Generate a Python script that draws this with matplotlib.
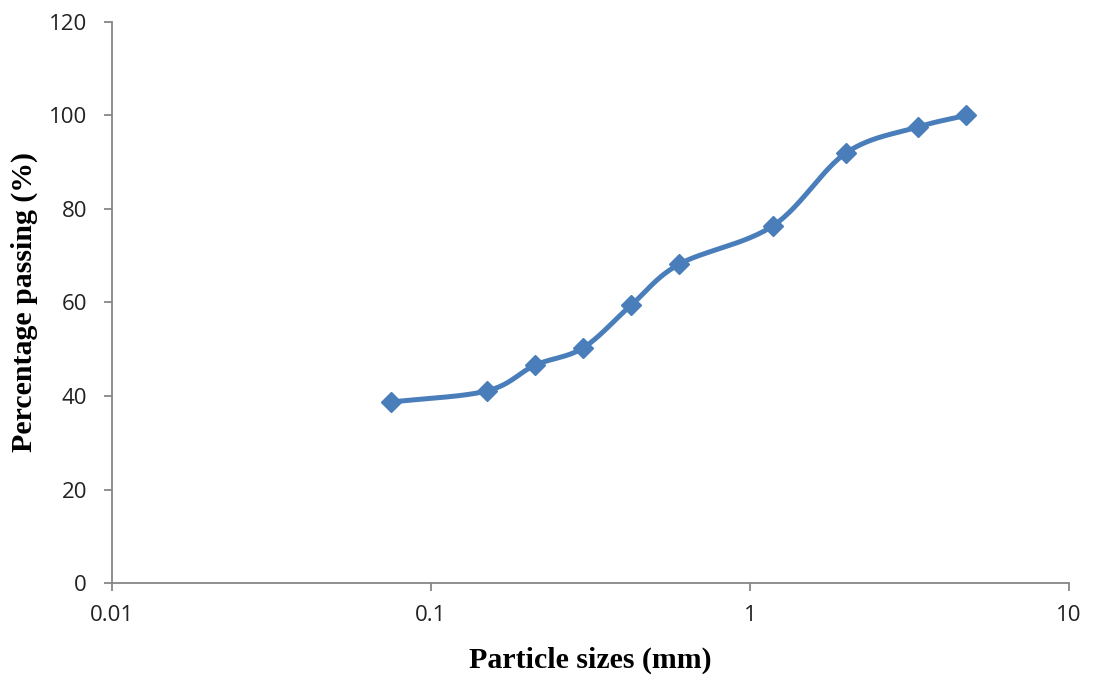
import matplotlib.pyplot as plt
from matplotlib.ticker import FixedLocator, FuncFormatter, NullLocator
import numpy as np

# sieve sizes (mm) and percentage passing
sizes = [0.075, 0.15, 0.212, 0.3, 0.425, 0.6, 1.18, 2.0, 3.35, 4.75]
passing = [38.7, 41.1, 46.6, 50.3, 59.5, 68.2, 76.4, 92.0, 97.5, 100.0]

x_ticks = [0.01, 0.1, 1, 10]
x_labels = ["0.01", "0.1", "1", "10"]
y_ticks = [0, 20, 40, 60, 80, 100, 120]

line_color = "#4A7EBB"
axis_color = "#868686"


def smooth_curve(xs, ys, n=30):
    # Catmull-Rom through the points in (log x, y), like Excel's smoothed line
    lx = np.log10(xs)
    ys = np.asarray(ys, dtype=float)
    px = np.concatenate([[2 * lx[0] - lx[1]], lx, [2 * lx[-1] - lx[-2]]])
    py = np.concatenate([[2 * ys[0] - ys[1]], ys, [2 * ys[-1] - ys[-2]]])
    out_x, out_y = [], []
    t = np.linspace(0, 1, n)
    for i in range(1, len(px) - 2):
        for arr, out in ((px, out_x), (py, out_y)):
            p0, p1, p2, p3 = arr[i - 1], arr[i], arr[i + 1], arr[i + 2]
            seg = 0.5 * ((2 * p1) + (-p0 + p2) * t
                         + (2 * p0 - 5 * p1 + 4 * p2 - p3) * t ** 2
                         + (-p0 + 3 * p1 - 3 * p2 + p3) * t ** 3)
            out.extend(seg)
    return 10 ** np.array(out_x), np.array(out_y)


fig = plt.figure(figsize=(10.96, 6.78), dpi=100)
ax = fig.add_axes([0.1022, 0.1401, 0.8732, 0.8275])

cx, cy = smooth_curve(sizes, passing)
ax.plot(cx, cy, color=line_color, lw=3.6, solid_capstyle="round", zorder=2)
ax.plot(sizes, passing, linestyle="none", marker="D", ms=10.5,
        color=line_color, zorder=3)

ax.set_xscale("log")
ax.set_xlim(0.01, 10)
ax.set_ylim(0, 120)
ax.xaxis.set_major_locator(FixedLocator(x_ticks))
ax.xaxis.set_minor_locator(NullLocator())
ax.xaxis.set_major_formatter(FuncFormatter(lambda v, p: x_labels[x_ticks.index(v)] if v in x_ticks else ""))
ax.set_yticks(y_ticks)

for s in ["top", "right"]:
    ax.spines[s].set_visible(False)
for s in ["left", "bottom"]:
    ax.spines[s].set_color(axis_color)
    ax.spines[s].set_linewidth(1.3)

ax.tick_params(axis="both", direction="out", length=6, width=1.3,
               color=axis_color, labelsize=16, labelcolor="#222222")
for lbl in ax.get_xticklabels() + ax.get_yticklabels():
    lbl.set_family("Open Sans")
ax.tick_params(axis="x", pad=10)
ax.tick_params(axis="y", pad=12)

ax.set_xlabel("Particle sizes (mm)", fontsize=21.5, fontweight="bold",
              family="Liberation Serif", labelpad=15)
ax.set_ylabel("Percentage passing (%)", fontsize=21.5, fontweight="bold",
              family="Liberation Serif", labelpad=8)

fig.savefig("out.png", dpi=100)
